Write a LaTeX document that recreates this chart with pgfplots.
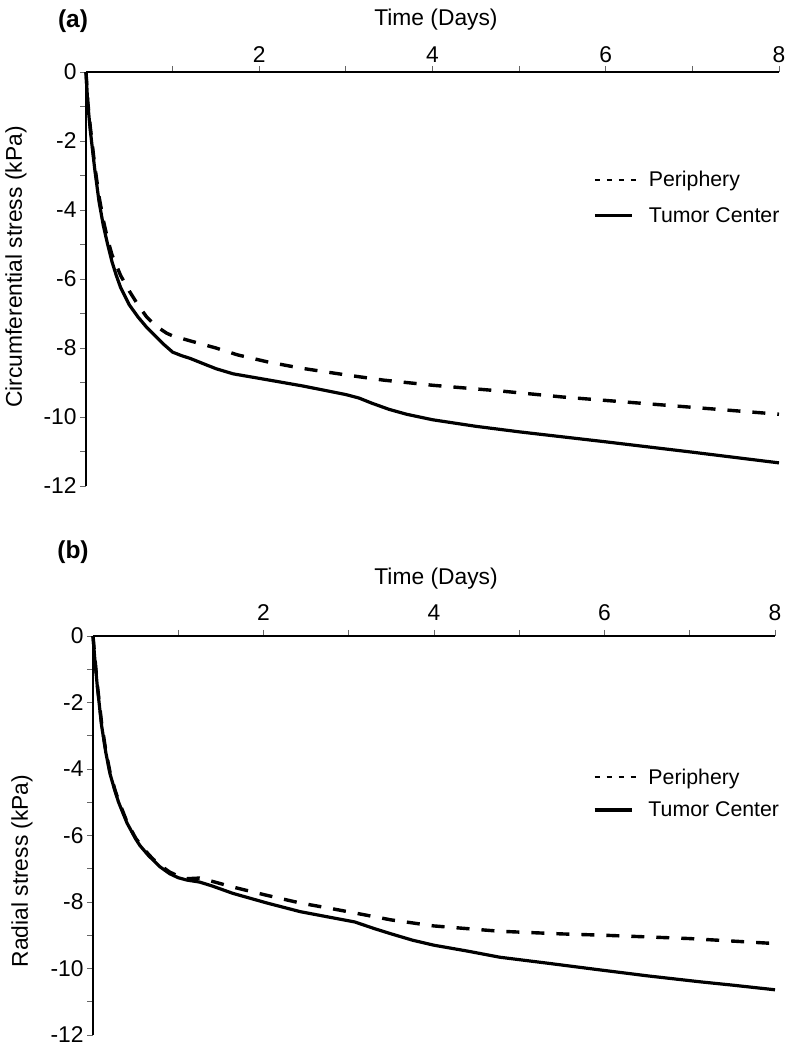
\documentclass[border=0pt]{standalone}
\usepackage{fontspec}
\setmainfont{Liberation Sans}
\usepackage{pgfplots}
\pgfplotsset{compat=1.18}
\newcommand{\bigf}{\fontsize{22.8}{26}\selectfont}
\newcommand{\legf}{\fontsize{21.3}{25}\selectfont}
\begin{document}
\begin{tikzpicture}
\useasboundingbox (0,0) rectangle (794pt,1049pt);
\pgfplotsset{
  myax/.style={
    scale only axis, clip=false,
    xmin=0, xmax=8, ymin=-12, ymax=0,
    axis x line=top, axis y line=left,
    axis line style={-, line width=1.9pt},
    xtick={1,2,3,4,5,6,7,8}, xticklabels={,2,,4,,6,,8},
    ytick={-12,-11,-10,-9,-8,-7,-6,-5,-4,-3,-2,-1,0},
    yticklabels={-12,,-10,,-8,,-6,,-4,,-2,,0},
    tick align=outside, major tick length=6pt,
    tick style={line width=0.8pt, black!60},
    font=\bigf,
    ticklabel style={font=\bigf},
    xlabel={Time (Days)},
    legend style={draw=none, fill=none, font=\legf, cells={anchor=west},
      column sep=10pt},
  },
  solidc/.style={black, line width=3.2pt, line join=round},
  dashc/.style={black, line width=3.4pt, dash pattern=on 13pt off 12pt},
}
% ---------- panel (a)
\begin{axis}[myax, width=693pt, height=414pt, at={(86pt,563pt)}, anchor=south west,
  ylabel={Circumferential stress (kPa)},
  ylabel style={at={(axis description cs:-0.101,0.529)}, anchor=center},
  xlabel style={at={(axis description cs:0.505,1.126)}, anchor=center},
  legend style={at={(axis description cs:0.727,0.770)}, anchor=north west, row sep=15pt},
]
\addplot[solidc, forget plot] coordinates {
(0,0) (0.02,-0.9) (0.05,-1.7) (0.1,-2.8) (0.15,-3.75) (0.2,-4.45) (0.25,-5.0)
(0.3,-5.5) (0.35,-5.9) (0.4,-6.25) (0.5,-6.75) (0.6,-7.1) (0.7,-7.4) (0.8,-7.65)
(0.9,-7.9) (1.0,-8.12) (1.1,-8.22) (1.2,-8.3) (1.35,-8.45) (1.5,-8.6) (1.7,-8.75)
(2.0,-8.88) (2.5,-9.1) (2.8,-9.25) (3.0,-9.35) (3.15,-9.45) (3.3,-9.6) (3.5,-9.78)
(3.7,-9.92) (4.0,-10.08) (4.5,-10.27) (5.0,-10.43) (6.0,-10.72) (7.0,-11.02) (8.0,-11.33)
};
\addplot[dashc, forget plot] coordinates {
(0,0) (0.02,-0.85) (0.05,-1.6) (0.1,-2.7) (0.15,-3.6) (0.2,-4.3) (0.25,-4.85)
(0.3,-5.3) (0.35,-5.6) (0.4,-5.9) (0.5,-6.35) (0.6,-6.75) (0.7,-7.1) (0.8,-7.35)
(0.93,-7.57) (1.0,-7.65) (1.24,-7.82) (1.5,-8.0) (1.75,-8.2) (2.09,-8.4) (2.47,-8.58)
(3.0,-8.78) (3.43,-8.93) (4.0,-9.08) (4.8,-9.25) (5.5,-9.42) (6.4,-9.6) (7.2,-9.76) (8.0,-9.92)
};
\addlegendimage{legend image code/.code={\draw[black, line width=1.8pt, dash pattern=on 5pt off 7pt] (0pt,0pt) -- (41pt,0pt);}}
\addlegendentry{Periphery}
\addlegendimage{legend image code/.code={\draw[black, line width=3.8pt] (0pt,0pt) -- (37pt,0pt);}}
\addlegendentry{Tumor Center}
\end{axis}
\node[font=\fontsize{24.5}{28}\selectfont\bfseries] at (73pt,1028pt) {(a)};
% ---------- panel (b)
\begin{axis}[myax, width=682pt, height=399pt, at={(93pt,14pt)}, anchor=south west,
  ylabel={Radial stress (kPa)},
  ylabel style={at={(axis description cs:-0.104,0.411)}, anchor=center},
  xlabel style={at={(axis description cs:0.503,1.145)}, anchor=center},
  xticklabel style={yshift=6pt},
  legend style={at={(axis description cs:0.728,0.678)}, anchor=north west, row sep=12pt},
]
\addplot[solidc, forget plot] coordinates {
(0,0) (0.02,-0.66) (0.05,-1.5) (0.1,-2.68) (0.15,-3.5) (0.2,-4.15) (0.26,-4.68)
(0.3,-5.0) (0.4,-5.63) (0.5,-6.1) (0.55,-6.3) (0.65,-6.6) (0.785,-6.94) (0.9,-7.15)
(1.0,-7.27) (1.1,-7.34) (1.25,-7.4) (1.4,-7.52) (1.64,-7.74) (2.04,-8.03) (2.43,-8.29)
(2.8,-8.47) (3.07,-8.6) (3.3,-8.8) (3.5,-8.96) (3.75,-9.15) (4.0,-9.3) (4.4,-9.48)
(4.77,-9.66) (5.3,-9.83) (5.94,-10.04) (6.5,-10.22) (7.12,-10.4) (7.5,-10.5) (8.0,-10.64)
};
\addplot[dashc, forget plot] coordinates {
(0,0) (0.02,-0.6) (0.05,-1.45) (0.1,-2.6) (0.15,-3.45) (0.2,-4.1) (0.26,-4.65)
(0.3,-4.95) (0.4,-5.6) (0.5,-6.08) (0.6,-6.42) (0.7,-6.7) (0.8,-6.92) (0.9,-7.1)
(1.0,-7.22) (1.1,-7.3) (1.25,-7.28) (1.4,-7.38) (1.64,-7.55) (2.04,-7.8) (2.43,-8.03)
(2.8,-8.2) (3.07,-8.33) (3.5,-8.54) (4.0,-8.72) (4.77,-8.88) (5.5,-8.96) (6.0,-9.0)
(7.0,-9.1) (8.0,-9.25)
};
\addlegendimage{legend image code/.code={\draw[black, line width=1.8pt, dash pattern=on 5pt off 7pt] (0pt,0pt) -- (41pt,0pt);}}
\addlegendentry{Periphery}
\addlegendimage{legend image code/.code={\draw[black, line width=3.8pt] (0pt,0pt) -- (37pt,0pt);}}
\addlegendentry{Tumor Center}
\end{axis}
\node[font=\fontsize{24.5}{28}\selectfont\bfseries] at (73pt,497pt) {(b)};
\end{tikzpicture}
\end{document}
